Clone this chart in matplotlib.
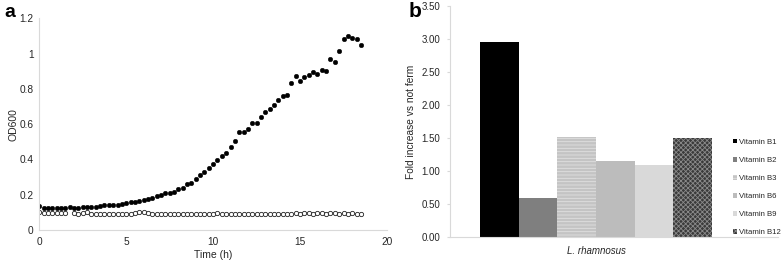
import numpy as np
import matplotlib
matplotlib.use("Agg")
import matplotlib.pyplot as plt
from matplotlib.patches import Patch
from matplotlib import font_manager

plt.rcParams['font.family'] = ['Liberation Sans', 'DejaVu Sans']
plt.rcParams['hatch.linewidth'] = 0.6

# ---------------- Data ----------------
time_h = [0.0, 0.25, 0.5, 0.75, 1.0, 1.25, 1.5, 1.75, 2.0, 2.25, 2.5, 2.75, 3.0, 3.25,
          3.5, 3.75, 4.0, 4.25, 4.5, 4.75, 5.0, 5.25, 5.5, 5.75, 6.0, 6.25, 6.5, 6.75,
          7.0, 7.25, 7.5, 7.75, 8.0, 8.25, 8.5, 8.75, 9.0, 9.25, 9.5, 9.75, 10.0, 10.25,
          10.5, 10.75, 11.0, 11.25, 11.5, 11.75, 12.0, 12.25, 12.5, 12.75, 13.0, 13.25,
          13.5, 13.75, 14.0, 14.25, 14.5, 14.75, 15.0, 15.25, 15.5, 15.75, 16.0, 16.25,
          16.5, 16.75, 17.0, 17.25, 17.5, 17.75, 18.0, 18.25, 18.5]

od_ferm = [0.136, 0.127, 0.125, 0.123, 0.123, 0.123, 0.123, 0.128, 0.123, 0.125, 0.128,
           0.130, 0.130, 0.132, 0.136, 0.140, 0.144, 0.144, 0.144, 0.149, 0.153, 0.157,
           0.159, 0.163, 0.168, 0.176, 0.183, 0.191, 0.197, 0.212, 0.208, 0.217, 0.231,
           0.240, 0.263, 0.268, 0.289, 0.312, 0.331, 0.353, 0.374, 0.399, 0.420, 0.438,
           0.472, 0.503, 0.556, 0.554, 0.573, 0.605, 0.607, 0.642, 0.671, 0.688, 0.707,
           0.737, 0.760, 0.765, 0.831, 0.875, 0.843, 0.869, 0.881, 0.898, 0.884, 0.907,
           0.903, 0.967, 0.954, 1.013, 1.081, 1.102, 1.090, 1.083, 1.051]

od_ctrl = [0.100, 0.095, 0.094, 0.095, 0.095, 0.095, 0.096, np.nan, 0.098, 0.092, 0.096,
           0.102, 0.090, 0.090, 0.090, 0.090, 0.091, 0.090, 0.088, 0.088, 0.092, 0.092,
           0.095, 0.101, 0.100, 0.094, 0.088, 0.090, 0.091, 0.091, 0.091, 0.090, 0.092,
           0.093, 0.093, 0.092, 0.091, 0.090, 0.091, 0.090, 0.092, 0.094, 0.092, 0.090,
           0.091, 0.090, 0.090, 0.091, 0.090, 0.091, 0.091, 0.092, 0.091, 0.091, 0.092,
           0.092, 0.091, 0.092, 0.093, 0.095, 0.093, 0.097, 0.094, 0.092, 0.097, 0.095,
           0.092, 0.094, 0.096, 0.093, 0.094, 0.093, 0.094, 0.093, 0.092]

vitamins = ['Vitamin B1', 'Vitamin B2', 'Vitamin B3', 'Vitamin B6', 'Vitamin B9', 'Vitamin B12']
fold_increase = [2.95, 0.60, 1.52, 1.15, 1.10, 1.50]
group_label = 'L. rhamnosus'

# ---------------- Figure ----------------
W, H = 784, 262
fig = plt.figure(figsize=(W / 100, H / 100), dpi=100)

def ax_rect(l, r, t, b):
    return [l / W, (H - b) / H, (r - l) / W, (b - t) / H]

grid_col = '#d9d9d9'
txt_col = '#262626'

# Panel a
axa = fig.add_axes(ax_rect(39.3, 387, 18.3, 230))
axa.plot(time_h, od_ctrl, linestyle='none', marker='o', markersize=3.1,
         markerfacecolor='white', markeredgecolor='#222222', markeredgewidth=0.6)
axa.plot(time_h, od_ferm, linestyle='none', marker='o', markersize=3.3,
         markerfacecolor='black', markeredgecolor='black', markeredgewidth=0.3)
axa.set_xlim(0, 20)
axa.set_ylim(0, 1.2)
axa.set_xticks([0, 5, 10, 15, 20])
axa.set_yticks([0, 0.2, 0.4, 0.6, 0.8, 1.0, 1.2])
axa.set_yticklabels(['0', '0.2', '0.4', '0.6', '0.8', '1', '1.2'])
for s in ['top', 'right']:
    axa.spines[s].set_visible(False)
for s in ['left', 'bottom']:
    axa.spines[s].set_color(grid_col)
    axa.spines[s].set_linewidth(0.8)
axa.tick_params(length=0, labelsize=7.3, colors=txt_col)
axa.tick_params(axis='x', pad=5)
axa.tick_params(axis='y', pad=4)
axa.set_xlabel('Time (h)', fontsize=7.5, color=txt_col, labelpad=2)
axa.set_ylabel('OD600', fontsize=7.5, color=txt_col, labelpad=1)

# Panel b
axb = fig.add_axes(ax_rect(450, 778, 6, 237.3))
x = np.arange(len(vitamins))
faces = ['#000000', '#7f7f7f', '#c4c4c4', '#bcbcbc', '#d9d9d9', '#3a3a3a']
edges = ['#000000', '#7f7f7f', '#e0e0e0', '#bcbcbc', '#d9d9d9', '#8a8a8a']
hatches = [None, None, '-----', None, None, 'xxxxxxx']
bars = axb.bar(x, fold_increase, width=1.0, color=faces, linewidth=0)
for b, ec, h in zip(bars, edges, hatches):
    b.set_edgecolor(ec)
    if h:
        b.set_hatch(h)
axb.set_xlim(-0.5 - 30 / 38.7, 5.5 + 66 / 38.7)
axb.set_ylim(0, 3.5)
axb.set_yticks(np.arange(0, 3.51, 0.5))
axb.set_yticklabels(['%.2f' % v for v in np.arange(0, 3.51, 0.5)])
axb.set_xticks([2.5])
axb.set_xticklabels([group_label], fontstyle='italic')
for s in ['top', 'right']:
    axb.spines[s].set_visible(False)
for s in ['left', 'bottom']:
    axb.spines[s].set_color(grid_col)
    axb.spines[s].set_linewidth(0.8)
axb.tick_params(axis='y', length=2, color=grid_col, labelsize=7, colors=txt_col, pad=5)
axb.tick_params(axis='y', color=grid_col)
axb.tick_params(axis='x', length=0, labelsize=7, colors=txt_col, pad=6)
axb.set_ylabel('Fold increase vs not ferm', fontsize=7.3, color=txt_col, labelpad=4)

# Legend
names = {f.name for f in font_manager.fontManager.ttflist}
leg_family = ['Liberation Sans Narrow'] if 'Liberation Sans Narrow' in names else ['Liberation Sans']
leg_size = 6.5 if 'Liberation Sans Narrow' in names else 5.6
handles = [Patch(facecolor=f, edgecolor=e, hatch=h, linewidth=0)
           for f, e, h in zip(faces, edges, hatches)]
leg = fig.legend(handles, vitamins, loc='upper left',
                 bbox_to_anchor=(733 / W, (H - 139) / H), frameon=False,
                 prop={'family': leg_family, 'size': leg_size},
                 handlelength=0.5, handleheight=0.5,
                 handletextpad=0.3, labelspacing=1.42, borderpad=0, borderaxespad=0)
for t in leg.get_texts():
    t.set_color(txt_col)

fig.text(4 / W, (H - 17) / H, 'a', fontsize=14, fontweight='bold', ha='left', va='baseline')
fig.text(409 / W, (H - 17) / H, 'b', fontsize=15, fontweight='bold', ha='left', va='baseline')

fig.savefig('out.png', dpi=100)
